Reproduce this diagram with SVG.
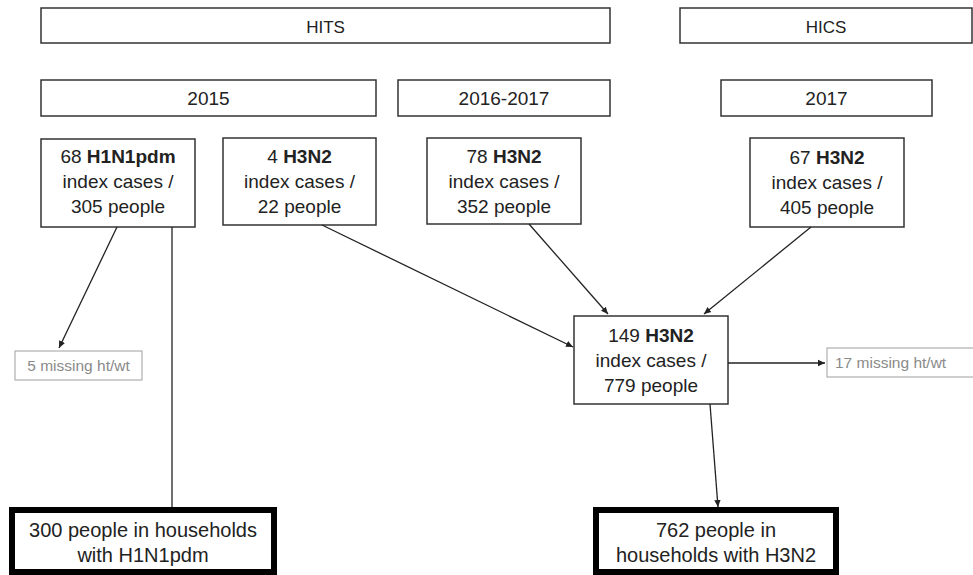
<svg xmlns="http://www.w3.org/2000/svg" width="973" height="575" viewBox="0 0 973 575">
<defs>
<marker id="arr" markerWidth="8" markerHeight="8" refX="7" refY="4" orient="auto" markerUnits="userSpaceOnUse">
<path d="M0,0.8 L7,4 L0,7.2 Z" fill="#222"/>
</marker>
<style>
.box{fill:#fff;stroke:#333;stroke-width:1.5}
.thick{fill:#fff;stroke:#000;stroke-width:6}
.grey{fill:#fff;stroke:#b0b0b0;stroke-width:1.2}
text{font-family:"Liberation Sans",Arial,sans-serif;fill:#222;text-anchor:middle}
.t19{font-size:19px}
.t17{font-size:17px}
.t20{font-size:20px}
.gt{font-size:15.5px;fill:#8a8a8a}
.b{font-weight:bold}
.con{stroke:#222;stroke-width:1.3;fill:none}
</style>
</defs>
<g id="hits"><rect class="box" x="41" y="8" width="569" height="35"/><text class="t17" x="325.5" y="33">HITS</text></g>
<g id="hics"><rect class="box" x="680" y="8" width="292" height="35"/><text class="t17" x="826" y="33">HICS</text></g>
<g id="y2015"><rect class="box" x="41" y="80" width="335" height="36"/><text class="t19" x="208.5" y="105">2015</text></g>
<g id="y2016"><rect class="box" x="398" y="80" width="212" height="36"/><text class="t19" x="504" y="105">2016-2017</text></g>
<g id="y2017"><rect class="box" x="721" y="80" width="211" height="36"/><text class="t19" x="826.5" y="105">2017</text></g>
<g id="h1n1"><rect class="box" x="41" y="139" width="154" height="88"/>
<text class="t19" x="118" y="163">68 <tspan class="b">H1N1pdm</tspan></text>
<text class="t19" x="118" y="188">index cases /</text>
<text class="t19" x="118" y="213">305 people</text></g>
<g id="h3n2a"><rect class="box" x="223" y="138" width="153" height="87"/>
<text class="t19" x="299.5" y="163">4 <tspan class="b">H3N2</tspan></text>
<text class="t19" x="299.5" y="188">index cases /</text>
<text class="t19" x="299.5" y="213">22 people</text></g>
<g id="h3n2b"><rect class="box" x="427" y="138" width="154" height="86"/>
<text class="t19" x="504" y="163">78 <tspan class="b">H3N2</tspan></text>
<text class="t19" x="504" y="188">index cases /</text>
<text class="t19" x="504" y="213">352 people</text></g>
<g id="h3n2c"><rect class="box" x="750" y="138" width="154" height="89"/>
<text class="t19" x="827" y="164">67 <tspan class="b">H3N2</tspan></text>
<text class="t19" x="827" y="189">index cases /</text>
<text class="t19" x="827" y="214">405 people</text></g>
<g id="h3n2all"><rect class="box" x="574" y="316" width="154" height="88"/>
<text class="t19" x="651" y="342">149 <tspan class="b">H3N2</tspan></text>
<text class="t19" x="651" y="367">index cases /</text>
<text class="t19" x="651" y="392">779 people</text></g>
<g id="miss5"><rect class="grey" x="15" y="351" width="127" height="29"/><text class="gt" x="78.5" y="370.5">5 missing ht/wt</text></g>
<g id="miss17"><rect class="grey" x="827" y="348" width="150" height="29"/><text class="gt" x="835" y="368" style="text-anchor:start">17 missing ht/wt</text></g>
<g id="final1"><rect class="thick" x="12" y="510" width="262" height="62"/>
<text class="t20" x="143" y="537">300 people in households</text>
<text class="t20" x="143" y="562">with H1N1pdm</text></g>
<g id="final2"><rect class="thick" x="596" y="510" width="240" height="62"/>
<text class="t20" x="716" y="537">762 people in</text>
<text class="t20" x="716" y="562">households with H3N2</text></g>
<g id="connectors">
<line class="con" x1="117" y1="227" x2="59" y2="348" marker-end="url(#arr)"/>
<line class="con" x1="172" y1="227" x2="172" y2="507"/>
<line class="con" x1="322" y1="225" x2="573" y2="347" marker-end="url(#arr)"/>
<line class="con" x1="529" y1="224" x2="608" y2="314" marker-end="url(#arr)"/>
<line class="con" x1="811" y1="227" x2="704" y2="314" marker-end="url(#arr)"/>
<line class="con" x1="728" y1="363" x2="825" y2="363" marker-end="url(#arr)"/>
<line class="con" x1="710" y1="404" x2="718" y2="507" marker-end="url(#arr)"/>
</g>
</svg>
